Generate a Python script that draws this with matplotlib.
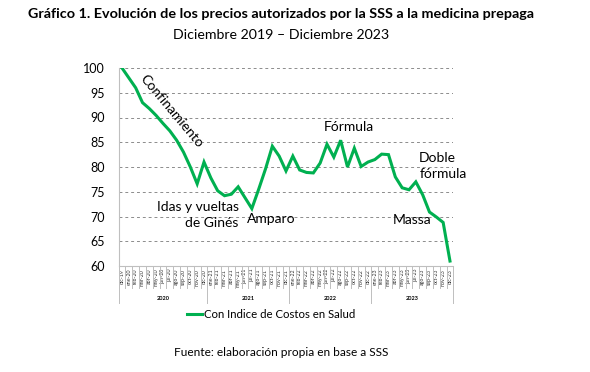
import matplotlib
matplotlib.use("Agg")
import matplotlib.pyplot as plt
import matplotlib.transforms as mtransforms

plt.rcParams['font.family'] = ['Lato', 'DejaVu Sans']

months = ["dic-19",
          "ene-20", "feb-20", "mar-20", "abr-20", "may-20", "jun-20", "jul-20", "ago-20", "sep-20", "oct-20", "nov-20", "dic-20",
          "ene-21", "feb-21", "mar-21", "abr-21", "may-21", "jun-21", "jul-21", "ago-21", "sep-21", "oct-21", "nov-21", "dic-21",
          "ene-22", "feb-22", "mar-22", "abr-22", "may-22", "jun-22", "jul-22", "ago-22", "sep-22", "oct-22", "nov-22", "dic-22",
          "ene-23", "feb-23", "mar-23", "abr-23", "may-23", "jun-23", "jul-23", "ago-23", "sep-23", "oct-23", "nov-23", "dic-23"]

values = [100,
          98.0, 96.0, 93.0, 91.8, 90.4, 88.8, 87.3, 85.4, 83.0, 80.0, 76.6, 81.0,
          77.8, 75.2, 74.2, 74.5, 76.0, 73.8, 71.6, 75.5, 79.6, 84.2, 82.2, 79.2,
          82.2, 79.4, 78.9, 78.8, 80.8, 84.6, 82.0, 85.4, 80.0, 83.8, 80.1, 81.0,
          81.5, 82.6, 82.5, 78.0, 75.8, 75.4, 77.0, 74.4, 70.9, 69.9, 68.8, 61.0]

years = ["2020", "2021", "2022", "2023"]
year_sizes = [13, 12, 12, 12]

yticks = [60, 65, 70, 75, 80, 85, 90, 95, 100]

green = "#00B050"

fig = plt.figure(figsize=(5.9, 3.72), dpi=100)
ax = fig.add_axes([118.6 / 590, 1 - 266 / 372, (453.4 - 118.6) / 590, (266 - 68) / 372])

x = list(range(len(months)))
ax.plot(x, values, color=green, lw=2.2, solid_joinstyle='miter', label="Con Indice de Costos en Salud")

ax.set_xlim(-0.5, len(months) - 0.5)
ax.set_ylim(60, 100)
ax.set_yticks(yticks)
ax.set_yticklabels([str(v) for v in yticks], fontsize=9)
ax.tick_params(axis='y', length=0, pad=10)
for v in yticks[1:]:
    ax.axhline(v, color="#8c8c8c", lw=0.7, ls=(0, (3, 3)), zorder=0)

for s in ['top', 'right']:
    ax.spines[s].set_visible(False)
ax.spines['left'].set_color("#bfbfbf")
ax.spines['left'].set_linewidth(0.8)
ax.spines['bottom'].set_color("#bfbfbf")
ax.spines['bottom'].set_linewidth(0.8)

ax.set_xticks(x)
ax.set_xticklabels(months, rotation=90, fontsize=3.8, color="#333333")
ax.tick_params(axis='x', length=0, pad=2)

trans = mtransforms.blended_transform_factory(ax.transData, ax.transAxes)
sep_h = 22 / 198
grp_h = 37 / 198
for i in range(len(months) + 1):
    ax.plot([i - 0.5, i - 0.5], [0, -sep_h], color="#bfbfbf", lw=0.7, transform=trans, clip_on=False)
start = 0
for yr, n in zip(years, year_sizes):
    ax.plot([start - 0.5, start - 0.5], [0, -grp_h], color="#bfbfbf", lw=0.7, transform=trans, clip_on=False)
    ax.text(start - 0.5 + n / 2, -33 / 198, yr, transform=trans, ha='center', va='center', fontsize=4, fontweight='bold')
    start += n
ax.plot([start - 0.5, start - 0.5], [0, -grp_h], color="#bfbfbf", lw=0.7, transform=trans, clip_on=False)

# Annotations
ax.text(7.3, 91.2, "Confinamiento", rotation=-50, ha='center', va='center', fontsize=10)
ax.text(17.1, 70.4, "Idas y vueltas\nde Ginés", ha='right', va='center', fontsize=10, linespacing=1.4)
ax.text(18.3, 69.4, "Amparo", ha='left', va='center', fontsize=10)
ax.text(29.5, 88.0, "Fórmula", ha='left', va='center', fontsize=10)
ax.text(43.5, 80.2, "Doble\nfórmula", ha='left', va='center', fontsize=10, linespacing=1.4)
ax.text(39.6, 69.3, "Massa", ha='left', va='center', fontsize=10)

fig.legend(loc='center', bbox_to_anchor=(271 / 590, 1 - 314 / 372), frameon=False, fontsize=8.2,
           handlelength=1.3, handletextpad=0.2)

fig.text(281 / 590, 1 - 14 / 372, "Gráfico 1. Evolución de los precios autorizados por la SSS a la medicina prepaga",
         ha='center', va='center', fontsize=10.4, fontweight='bold')
fig.text(281 / 590, 1 - 35 / 372, "Diciembre 2019 – Diciembre 2023", ha='center', va='center', fontsize=10.2)
fig.text(281 / 590, 1 - 352 / 372, "Fuente: elaboración propia en base a SSS", ha='center', va='center', fontsize=8.6)

fig.savefig("out.png", dpi=100)
